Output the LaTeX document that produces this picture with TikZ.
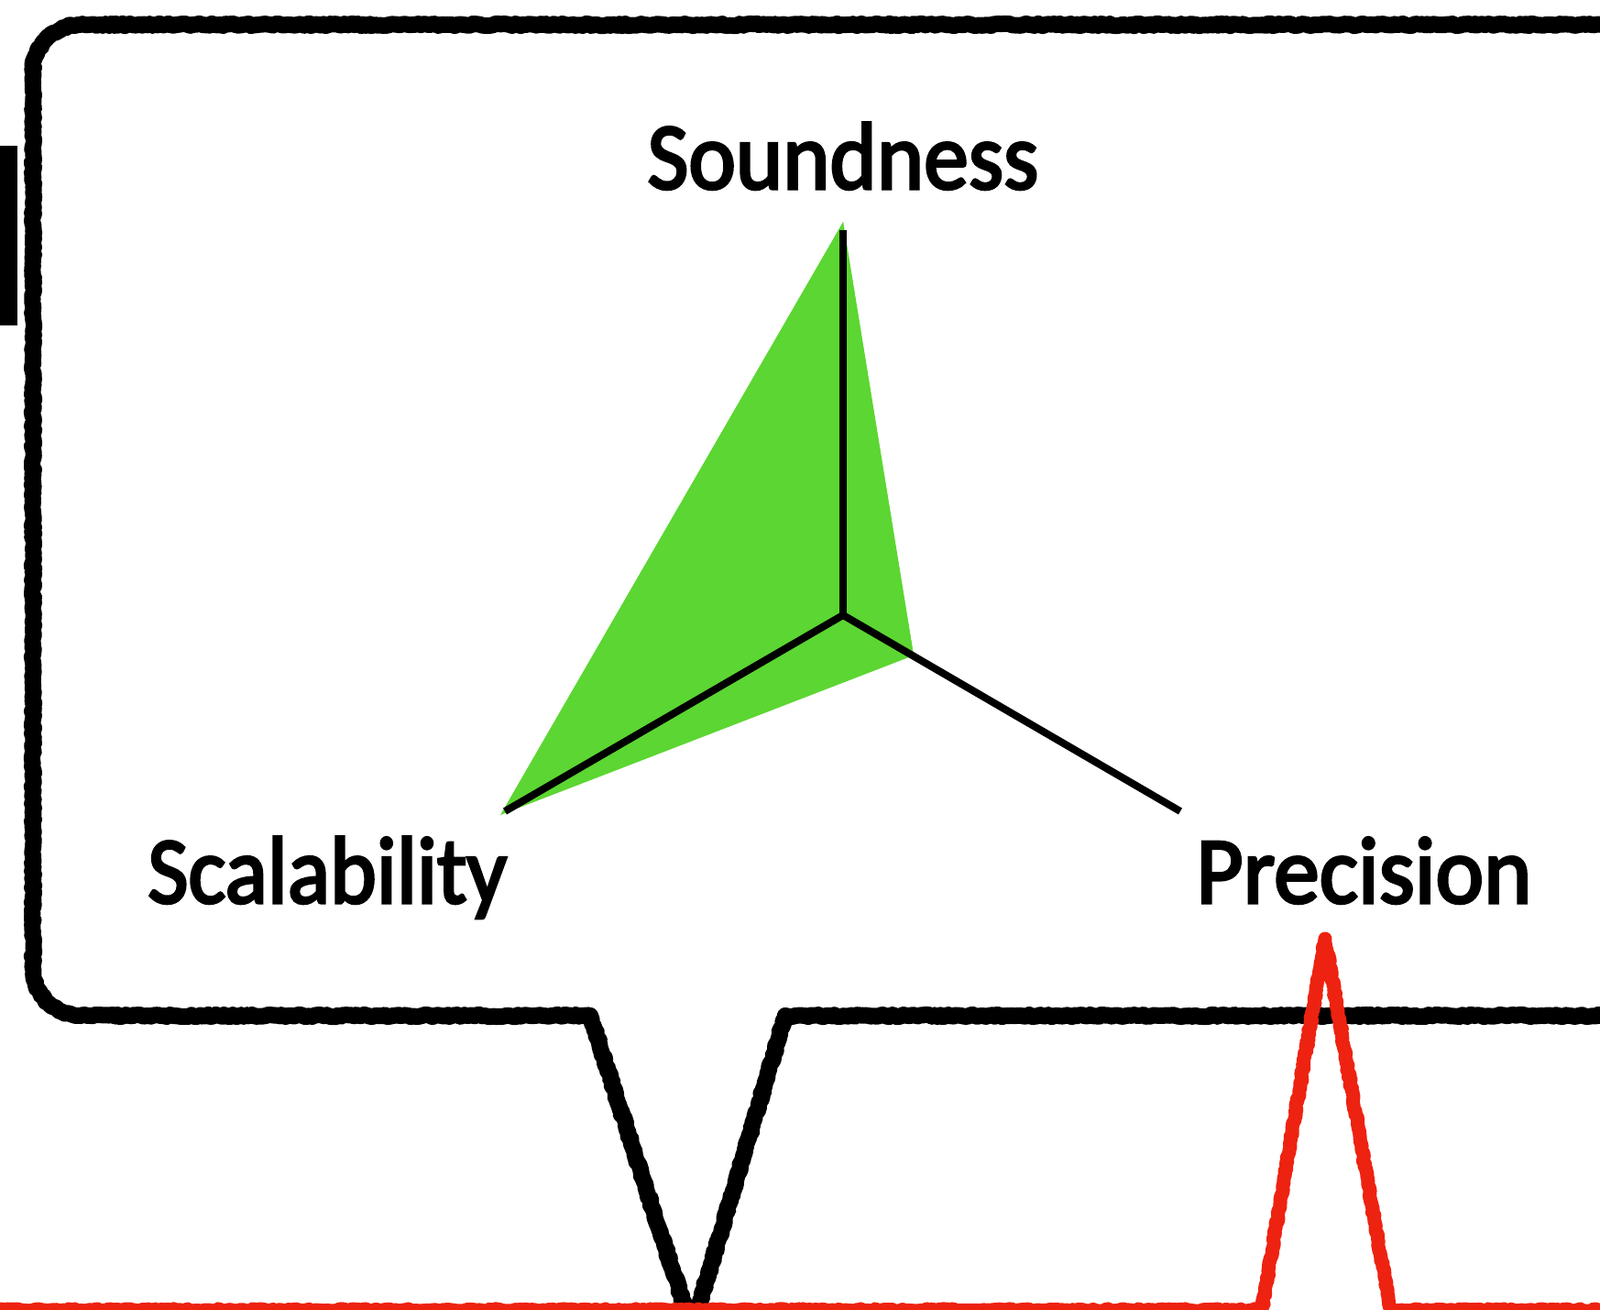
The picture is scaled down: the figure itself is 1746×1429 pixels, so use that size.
\documentclass[tikz,border=0pt]{standalone}
\usepackage{fontspec}
\setmainfont{Carlito}[FakeBold=3]
\usetikzlibrary{decorations.pathmorphing}
\definecolor{spikegreen}{HTML}{5CD632}
\definecolor{sketchred}{HTML}{EE2211}
\tikzset{
  sketchy/.style={decorate,decoration={random steps,segment length=3pt,amplitude=1.2pt}},
  boxline/.style={draw=black,line width=18pt,line cap=round,line join=round},
  redline/.style={draw=sketchred,line width=15pt,line cap=round,line join=round},
  axisline/.style={draw=black,line width=8pt},
  label/.style={font=\fontsize{104}{110}\selectfont,inner sep=0pt,text=black}
}
\begin{document}
\begin{tikzpicture}[x=1pt,y=-1pt]
\useasboundingbox (0,0) rectangle (1746,1429);
\clip (0,0) rectangle (1746,1429);
% left black bar
\fill[black] (0,159) rectangle (19,355);
% speech box outline
\coordinate (tl) at (644,1108);
\coordinate (tr) at (857,1108);
\coordinate (tip) at (755,1450);
\draw[boxline,sketchy] (tl) -- (88,1108) arc[start angle=270,end angle=180,radius=52pt]
  -- (36,79) arc[start angle=180,end angle=90,radius=52pt]
  -- (1748,27) arc[start angle=90,end angle=0,radius=52pt]
  -- (1800,1056) arc[start angle=0,end angle=-90,radius=52pt] -- (tr);
\draw[boxline,sketchy] (tl) -- (tip) -- (tr);
% green area
\coordinate (O) at (920,671);
\coordinate (aS) at (920,251);
\coordinate (aL) at (551,885);
\coordinate (aR) at (1288,885);
\coordinate (gT) at (920,242);
\coordinate (gR) at (997,715);
\coordinate (gL) at (546,889);
\fill[spikegreen] (gT) -- (gR) -- (gL) -- cycle;
\fill[spikegreen] (gT) -- (O) -- (gR) -- cycle;
\draw[axisline] (O) -- (aS);
\draw[axisline] (O) -- (aL);
\draw[axisline] (O) -- (aR);
% labels
\node[label,anchor=base] (snd) at (920,206) {\scalebox{0.94}[1]{Soundness}};
\node[label,anchor=base west] (scl) at (161,985) {\scalebox{0.928}[1]{Scalability}};
\node[label,anchor=base west] (prc) at (1305,985) {\scalebox{0.958}[1]{Precision}};
% red line
\coordinate (rL) at (-20,1429);
\coordinate (rA) at (1377,1429);
\coordinate (rP) at (1446,1024);
\coordinate (rB) at (1517,1429);
\coordinate (rR) at (1770,1429);
\draw[redline,sketchy] (rL) -- (rA) -- (rP) -- (rB) -- (rR);
\end{tikzpicture}
\end{document}
